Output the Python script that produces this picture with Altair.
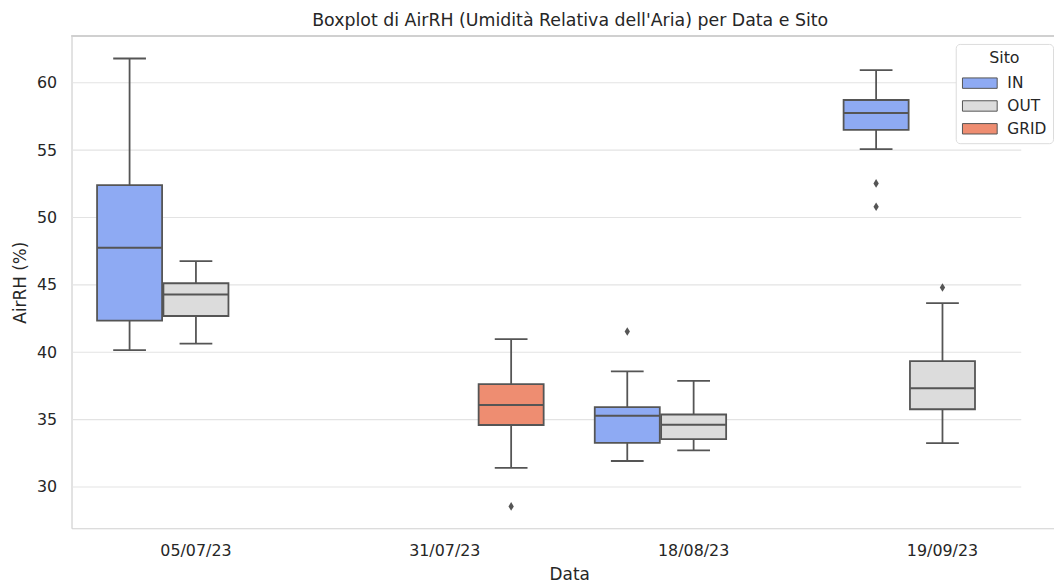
import altair as alt
import pandas as pd

DATE_ORDER = ["05/07/23", "31/07/23", "18/08/23", "19/09/23"]
SITE_ORDER = ["IN", "OUT", "GRID"]
SITE_COLORS = ["#8eaaf3", "#dcdcdc", "#ee8d71"]

# box summary statistics
box_date = ["05/07/23", "05/07/23", "31/07/23", "18/08/23", "18/08/23", "19/09/23", "19/09/23"]
box_site = ["IN", "OUT", "GRID", "IN", "OUT", "IN", "OUT"]
whisker_low = [40.15, 40.64, 31.42, 31.93, 32.71, 55.07, 33.25]
q1 = [42.35, 42.69, 34.60, 33.28, 33.55, 56.50, 35.77]
median = [47.76, 44.28, 36.09, 35.28, 34.62, 57.76, 37.33]
q3 = [52.40, 45.12, 37.63, 35.92, 35.38, 58.72, 39.34]
whisker_high = [61.80, 46.77, 40.98, 38.58, 37.87, 60.93, 43.64]

# outliers
outlier_date = ["31/07/23", "18/08/23", "19/09/23", "19/09/23", "19/09/23"]
outlier_site = ["GRID", "IN", "IN", "IN", "OUT"]
outlier_value = [28.56, 41.54, 52.53, 50.80, 44.80]

Y_DOMAIN = [26.94, 63.47]
Y_TICKS = [30, 35, 40, 45, 50, 55, 60]

boxes = pd.DataFrame({
    "Data": box_date, "Sito": box_site, "lo": whisker_low, "q1": q1,
    "med": median, "q3": q3, "hi": whisker_high,
})
outliers = pd.DataFrame({"Data": outlier_date, "Sito": outlier_site, "AirRH": outlier_value})
grid_df = pd.DataFrame({"v": Y_TICKS})

FONT = "DejaVu Sans"
EDGE = "#555555"
W, H = 957, 496

x_enc = alt.X(
    "Data:N", sort=DATE_ORDER,
    scale=alt.Scale(domain=DATE_ORDER, range=[0, 1003], paddingInner=0, paddingOuter=0),
    axis=alt.Axis(title="Data", labelAngle=0, ticks=False, labelPadding=14,
                  domainColor="#d0d0d0", domainWidth=1.2, grid=False,
                  titlePadding=9),
)
xo_enc = alt.XOffset("Sito:N", sort=SITE_ORDER,
                     scale=alt.Scale(domain=SITE_ORDER, paddingInner=0.02, paddingOuter=0.385))
y_scale = alt.Scale(domain=Y_DOMAIN, nice=False, zero=False)
y_axis = alt.Axis(title="AirRH (%)", values=Y_TICKS, ticks=False, labelPadding=15,
                  domainColor="#d0d0d0", domainWidth=1.2, grid=False,
                  titlePadding=7)

grid = alt.Chart(grid_df).mark_rule(color="#e3e3e3", strokeWidth=1.1).encode(
    y=alt.Y("v:Q", scale=y_scale, axis=y_axis), x=alt.value(0), x2=alt.value(W))

base = alt.Chart(boxes)

whisk_up = base.mark_rule(color=EDGE, strokeWidth=1.8).encode(
    x=x_enc, xOffset=xo_enc, y=alt.Y("q3:Q", scale=y_scale), y2="hi:Q")
whisk_lo = base.mark_rule(color=EDGE, strokeWidth=1.8).encode(
    x=x_enc, xOffset=xo_enc, y=alt.Y("lo:Q", scale=y_scale), y2="q1:Q")

box = base.mark_bar(stroke=EDGE, strokeWidth=1.8, opacity=1).encode(
    x=x_enc, xOffset=xo_enc,
    y=alt.Y("q1:Q", scale=y_scale), y2="q3:Q",
    color=alt.Color("Sito:N", sort=SITE_ORDER,
                    scale=alt.Scale(domain=SITE_ORDER, range=SITE_COLORS),
                    legend=alt.Legend(
                        title="Sito", orient="none", legendX=891, legendY=8,
                        symbolType="M-1,-0.6H3V0.6H-1Z", symbolSize=306,
                        symbolStrokeColor=EDGE, symbolStrokeWidth=1,
                        symbolOpacity=1,
                        titleAnchor="middle", titleFontSize=16, labelFontSize=15.5,
                        titleFont=FONT, labelFont=FONT, titleFontWeight="normal",
                        titleColor="#262626", labelColor="#262626", titlePadding=8,
                        fillColor="white", strokeColor="#dcdcdc", cornerRadius=4,
                        padding=6, rowPadding=5, labelOffset=27,
                    )),
)

med = base.mark_tick(color=EDGE, thickness=2, size=65, opacity=1).encode(
    x=x_enc, xOffset=xo_enc, y=alt.Y("med:Q", scale=y_scale))
cap_hi = base.mark_tick(color=EDGE, thickness=1.8, size=33, opacity=1).encode(
    x=x_enc, xOffset=xo_enc, y=alt.Y("hi:Q", scale=y_scale))
cap_lo = base.mark_tick(color=EDGE, thickness=1.8, size=33, opacity=1).encode(
    x=x_enc, xOffset=xo_enc, y=alt.Y("lo:Q", scale=y_scale))

pts = alt.Chart(outliers).mark_point(
    shape="M0,-1L0.62,0L0,1L-0.62,0Z", filled=True, color=EDGE, size=75, opacity=1
).encode(x=x_enc, xOffset=xo_enc, y=alt.Y("AirRH:Q", scale=y_scale))

top_line = alt.Chart(boxes).mark_rule(color="#d0d0d0", strokeWidth=1.2).encode(
    y=alt.value(0), x=alt.value(0), x2=alt.value(990))

chart = alt.layer(grid, whisk_up, whisk_lo, box, med, cap_hi, cap_lo, pts, top_line).properties(
    width=W, height=H,
    title=alt.TitleParams("Boxplot di AirRH (Umidità Relativa dell'Aria) per Data e Sito",
                          font=FONT, fontSize=17.5, fontWeight="normal", color="#262626",
                          anchor="middle", frame="group", dx=24, offset=6),
    autosize=alt.AutoSizeParams(type="none"),
    padding={"left": 64, "top": 26, "right": 33, "bottom": 56},
    background="white",
).configure_view(stroke=None).configure_axis(
    labelFont=FONT, titleFont=FONT, labelFontSize=16, titleFontSize=17,
    labelColor="#262626", titleColor="#262626", titleFontWeight="normal",
)

chart.save("out.html", embed_options={"renderer": "svg", "actions": False})
